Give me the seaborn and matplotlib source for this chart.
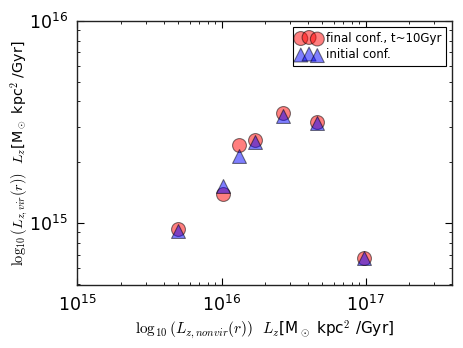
import numpy as np
import pandas as pd
import matplotlib
matplotlib.use("Agg")
import matplotlib.pyplot as plt
import matplotlib.ticker as mticker
import seaborn as sns

sns.set_style("ticks", {"xtick.direction": "in", "ytick.direction": "in",
                        "text.color": "black", "axes.labelcolor": "black",
                        "xtick.color": "black", "ytick.color": "black",
                        "axes.edgecolor": "black"})
plt.rcParams["mathtext.fontset"] = "cm"
plt.rcParams["font.family"] = ["DejaVu Sans"]

# angular momentum, non-virialised vs virialised
lz_nonvir = [5.0e15, 1.02e16, 1.33e16, 1.70e16, 2.65e16, 4.56e16, 9.7e16]
lz_vir_final = [9.37e14, 1.39e15, 2.44e15, 2.58e15, 3.50e15, 3.17e15, 6.71e14]
lz_vir_init = [9.16e14, 1.53e15, 2.16e15, 2.52e15, 3.39e15, 3.12e15, 6.71e14]

df = pd.DataFrame({"x": lz_nonvir, "final": lz_vir_final, "init": lz_vir_init})

fig = plt.figure(figsize=(4.63, 3.48), dpi=100)
ax = fig.add_axes([0.167, 0.181, 0.8086, 0.7587])

sns.scatterplot(data=df, x="x", y="final", ax=ax, s=100, marker="o",
                color="red", alpha=0.5, edgecolor="k", linewidth=0.8,
                label="final conf., t~10Gyr")
sns.scatterplot(data=df, x="x", y="init", ax=ax, s=100, marker="^",
                color="blue", alpha=0.5, edgecolor="k", linewidth=0.8,
                label="initial conf.")

ax.set_xscale("log")
ax.set_yscale("log")
ax.set_xlim(1e15, 3.95e17)
ax.set_ylim(4.95e14, 1e16)
ax.yaxis.set_minor_formatter(mticker.NullFormatter())
ax.xaxis.set_minor_formatter(mticker.NullFormatter())

ax.tick_params(which="both", direction="in", top=True, right=True,
               labelsize=12.5, pad=7, colors="black")
ax.tick_params(which="major", length=5, width=0.8)
ax.tick_params(which="minor", length=2.5, width=0.6)
for sp in ax.spines.values():
    sp.set_linewidth(1.0)
    sp.set_color("#222222")

ax.set_xlabel(r"$\log_{10}(L_{z,nonvir}(r))$  $L_z$[M$_\odot$ kpc$^2$ /Gyr]",
              fontsize=11, labelpad=3, color="black")
ax.set_ylabel(r"$\log_{10}(L_{z,vir}(r))$  $L_z$[M$_\odot$ kpc$^2$ /Gyr]",
              fontsize=10.3, color="black")
ax.yaxis.set_label_coords(-0.125, 0.5)

leg = ax.legend(loc="upper right", scatterpoints=3, fontsize=8.5,
                fancybox=False, framealpha=1, edgecolor="k",
                handlelength=2.0, handletextpad=0.4, borderpad=0.4,
                labelspacing=0.3, borderaxespad=0.5)
leg.get_frame().set_linewidth(0.8)
for t in leg.get_texts():
    t.set_color("black")

fig.savefig("out.png", dpi=100)
